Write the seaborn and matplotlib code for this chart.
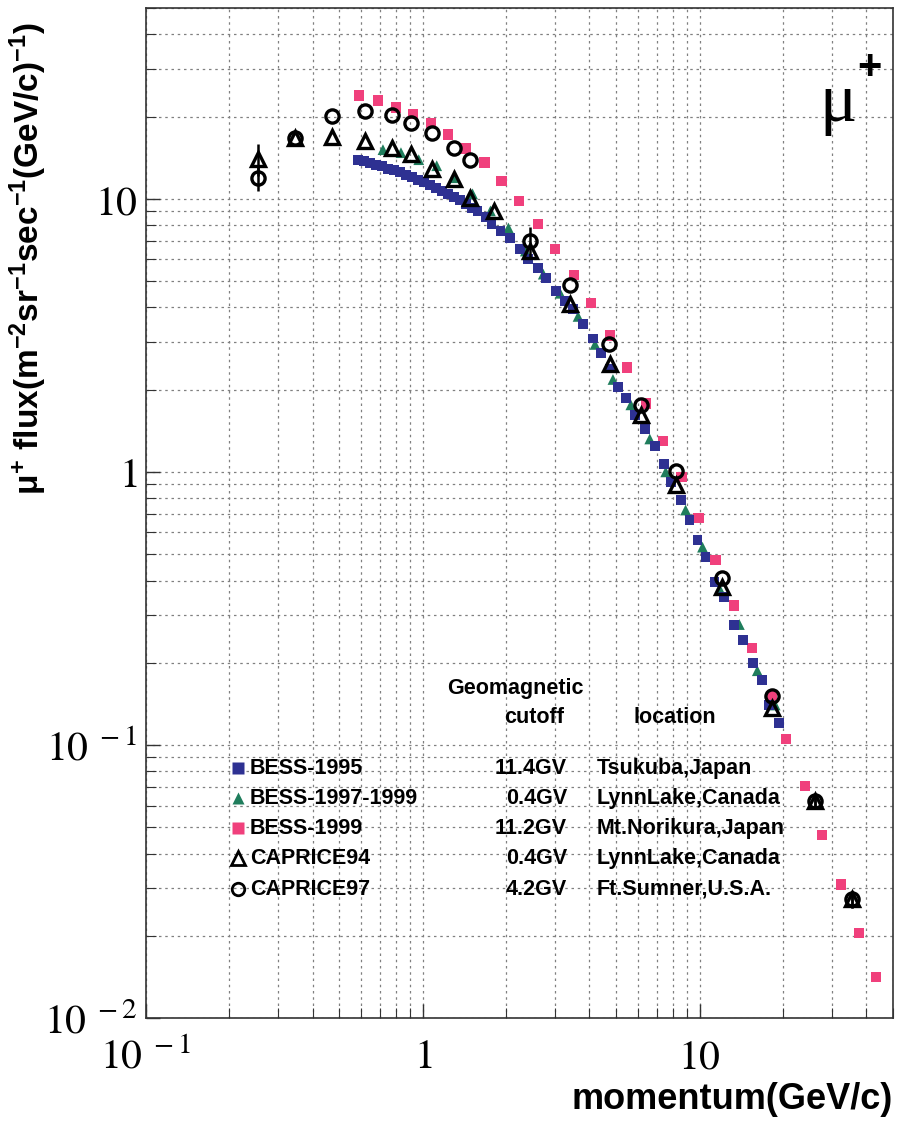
import matplotlib
matplotlib.use("Agg")
import matplotlib.pyplot as plt
import matplotlib.ticker as mticker
import numpy as np
import pandas as pd
import seaborn as sns

# BESS-1995, Tsukuba
bess95_p = [0.584, 0.614, 0.645, 0.678, 0.712, 0.748, 0.787, 0.827, 0.869, 0.913,
            0.959, 1.008, 1.060, 1.114, 1.170, 1.230, 1.293, 1.359, 1.428, 1.501,
            1.577, 1.685, 1.771, 1.908, 2.073, 2.252, 2.406, 2.614, 2.793, 3.034,
            3.268, 3.493, 3.795, 4.123, 4.405, 4.746, 5.070, 5.417, 5.837, 6.341,
            6.889, 7.422, 7.865, 8.544, 9.205, 9.835, 10.51, 11.32, 12.30, 13.36,
            14.40, 15.64, 16.85, 17.86, 19.40]
bess95_flux = [13.91, 13.79, 13.57, 13.34, 13.22, 12.89, 12.78, 12.57, 12.25, 12.05,
               11.75, 11.55, 11.26, 10.98, 10.70, 10.43, 10.17, 9.92, 9.59, 9.27,
               9.03, 8.59, 8.09, 7.63, 7.19, 6.55, 6.02, 5.58, 5.12, 4.59,
               4.22, 3.94, 3.47, 3.08, 2.72, 2.39, 2.04, 1.87, 1.62, 1.44,
               1.24, 1.07, 0.919, 0.789, 0.666, 0.562, 0.487, 0.394, 0.347, 0.274,
               0.243, 0.200, 0.173, 0.140, 0.120]

# BESS-1997-1999, Lynn Lake
bess97_p = [0.718, 0.834, 0.967, 1.123, 1.303, 1.513, 1.756, 2.039, 2.347, 2.725,
            3.136, 3.640, 4.192, 4.866, 5.647, 6.609, 7.546, 8.905, 10.25, 11.90,
            13.93, 16.17, 18.77]
bess97_flux = [15.14, 14.76, 13.91, 13.22, 11.95, 10.43, 9.03, 7.82, 6.44, 5.30,
               4.51, 3.71, 2.93, 2.18, 1.76, 1.32, 1.00, 0.725, 0.530, 0.368,
               0.276, 0.187, 0.140]

# BESS-1999, Mt. Norikura
bess99_p = [0.588, 0.689, 0.800, 0.920, 1.069, 1.230, 1.428, 1.671, 1.924, 2.233,
            2.614, 3.009, 3.523, 4.055, 4.746, 5.462, 6.394, 7.361, 8.615, 9.92,
            11.42, 13.36, 15.51, 18.31, 20.55, 24.06, 27.70, 32.42, 37.63, 43.33]
bess99_flux = [23.9, 22.9, 21.6, 20.4, 19.0, 17.2, 15.3, 13.6, 11.6, 9.83,
               8.09, 6.55, 5.26, 4.15, 3.16, 2.41, 1.78, 1.30, 0.958, 0.678,
               0.475, 0.324, 0.227, 0.151, 0.105, 0.0707, 0.0467, 0.0308, 0.0205, 0.01415]

# CAPRICE94, Lynn Lake
cap94_p = [0.253, 0.346, 0.471, 0.619, 0.774, 0.905, 1.077, 1.293, 1.476, 1.816,
           2.446, 3.407, 4.746, 6.135, 8.198, 12.10, 18.31, 26.14, 35.51]
cap94_flux = [14.03, 16.76, 16.90, 16.34, 15.40, 14.64, 12.89, 11.85, 10.08, 9.03,
              6.44, 4.11, 2.49, 1.61, 0.896, 0.378, 0.137, 0.0622, 0.0272]
cap94_err = [1.9, 0, 0, 0, 0, 0, 0, 0, 0, 0,
             0, 0, 0, 0, 0, 0, 0, 0.004, 0.002]

# CAPRICE97, Ft. Sumner
cap97_p = [0.253, 0.346, 0.471, 0.619, 0.774, 0.905, 1.077, 1.293, 1.476,
           2.446, 3.407, 4.72, 6.135, 8.198, 12.10, 18.31, 26.14, 35.51]
cap97_flux = [11.95, 16.76, 20.19, 21.06, 20.36, 19.0, 17.48, 15.40, 13.91,
              7.01, 4.83, 2.93, 1.76, 1.01, 0.408, 0.151, 0.0622, 0.0272]
cap97_err = [1.25, 0, 0, 0, 0, 0, 0, 0, 0,
             0.9, 0, 0, 0, 0, 0, 0, 0.004, 0.002]

# legend table
leg_names = ["BESS-1995", "BESS-1997-1999", "BESS-1999", "CAPRICE94", "CAPRICE97"]
leg_cutoff = ["11.4GV", "0.4GV", "11.2GV", "0.4GV", "4.2GV"]
leg_location = ["Tsukuba,Japan", "LynnLake,Canada", "Mt.Norikura,Japan",
                "LynnLake,Canada", "Ft.Sumner,U.S.A."]

BLUE = "#2e3192"
GREEN = "#1f7d5c"
PINK = "#f0407c"

sns.set_theme(style="white")
plt.rcParams['font.family'] = ['Liberation Sans', 'DejaVu Sans']
plt.rcParams['text.color'] = 'black'
plt.rcParams['axes.labelcolor'] = 'black'
plt.rcParams['xtick.color'] = 'black'
plt.rcParams['ytick.color'] = 'black'
plt.rcParams['mathtext.fontset'] = 'custom'
plt.rcParams['mathtext.rm'] = 'Liberation Sans:bold'
plt.rcParams['mathtext.it'] = 'Liberation Sans:bold'
plt.rcParams['mathtext.bf'] = 'Liberation Sans:bold'

fig = plt.figure(figsize=(8.98, 11.22), dpi=100)
ax = fig.add_axes([0.1626, 0.0927, 0.8318, 0.9002])
ax.set_xscale('log')
ax.set_yscale('log')

df95 = pd.DataFrame({'p': bess95_p, 'flux': bess95_flux})
df97 = pd.DataFrame({'p': bess97_p, 'flux': bess97_flux})
df99 = pd.DataFrame({'p': bess99_p, 'flux': bess99_flux})
dfc94 = pd.DataFrame({'p': cap94_p, 'flux': cap94_flux, 'err': cap94_err})
dfc97 = pd.DataFrame({'p': cap97_p, 'flux': cap97_flux, 'err': cap97_err})

sns.scatterplot(data=df99, x='p', y='flux', marker='s', s=55, color=PINK,
                edgecolor='none', ax=ax, zorder=3)
sns.scatterplot(data=df97, x='p', y='flux', marker='^', s=60, color=GREEN,
                edgecolor='none', ax=ax, zorder=3)
sns.scatterplot(data=df95, x='p', y='flux', marker='s', s=50, color=BLUE,
                edgecolor='none', ax=ax, zorder=4)

ax.errorbar(dfc94['p'], dfc94['flux'], yerr=dfc94['err'], fmt='none',
            ecolor='black', elinewidth=1.8, capsize=0, zorder=5)
ax.errorbar(dfc97['p'], dfc97['flux'], yerr=dfc97['err'], fmt='none',
            ecolor='black', elinewidth=1.8, capsize=0, zorder=5)
sns.lineplot(data=dfc94, x='p', y='flux', marker='^', linestyle='', ms=10,
             mfc='none', mec='black', mew=2.4, estimator=None, ax=ax, zorder=6)
sns.lineplot(data=dfc97, x='p', y='flux', marker='o', linestyle='', ms=9.5,
             mfc='none', mec='black', mew=2.4, estimator=None, ax=ax, zorder=6)

ax.set_xlim(0.1, 50)
ax.set_ylim(0.01, 50)

# grid and frame
ax.grid(True, which='both', linestyle=(0, (2, 3)), color='#808080', linewidth=0.9)
for sp in ax.spines.values():
    sp.set_color('#333333')
    sp.set_linewidth(1.2)
ax.tick_params(which='both', direction='in', top=False, right=False,
               bottom=True, left=True, color='#333333')
ax.tick_params(which='major', length=10, width=1)
ax.tick_params(which='minor', length=7, width=0.8)

ax.set_xticks([0.1, 1, 10])
ax.set_xticklabels([r'$10^{\ -1}$', r'$1$', r'$10$'], fontsize=30,
                   math_fontfamily='stix')
ax.set_yticks([0.01, 0.1, 1, 10])
ax.set_yticklabels([r'$10^{\ -2}$', r'$10^{\ -1}$', r'$1\quad$', r'$10\quad$'],
                   fontsize=30, math_fontfamily='stix')
ax.xaxis.set_minor_formatter(mticker.NullFormatter())
ax.yaxis.set_minor_formatter(mticker.NullFormatter())
ax.tick_params(axis='x', which='major', pad=14)
ax.tick_params(axis='y', which='major', pad=6)

ax.set_xlabel('momentum(GeV/c)', fontsize=26, fontweight='bold', ha='right', va='center')
ax.xaxis.set_label_coords(1.0, -0.081)
ax.set_ylabel(r'$\mu^{+}$ flux(m$^{-2}$sr$^{-1}$sec$^{-1}$(GeV/c)$^{-1}$)',
              fontsize=24, fontweight='bold', va='center')
ax.yaxis.set_label_coords(-0.158, 0.752)

# mu+ tag
ax.text(0.926, 0.905, 'μ', transform=ax.transAxes, fontsize=50, color='black',
        family=['Liberation Serif', 'DejaVu Serif'], ha='center', va='center')
ax.text(0.969, 0.941, '+', transform=ax.transAxes, fontsize=30, color='black',
        fontweight='bold', ha='center', va='center')

# legend table
ax.text(0.494, 0.3267, 'Geomagnetic', transform=ax.transAxes, fontsize=15.5,
        fontweight='bold', ha='center', va='center')
ax.text(0.520, 0.298, 'cutoff', transform=ax.transAxes, fontsize=15.5,
        fontweight='bold', ha='center', va='center')
ax.text(0.708, 0.298, 'location', transform=ax.transAxes, fontsize=15.5,
        fontweight='bold', ha='center', va='center')

row_y = [0.2475, 0.2178, 0.1881, 0.1584, 0.1277]
leg_style = [
    dict(marker='s', color=BLUE, ms=8, mec='none'),
    dict(marker='^', color=GREEN, ms=8, mec='none'),
    dict(marker='s', color=PINK, ms=8, mec='none'),
    dict(marker='^', color='black', ms=10, mfc='none', mec='black', mew=2),
    dict(marker='o', color='black', ms=9, mfc='none', mec='black', mew=2),
]
for yy, name, cut, loc, st in zip(row_y, leg_names, leg_cutoff, leg_location, leg_style):
    ax.plot([0.123], [yy], linestyle='', transform=ax.transAxes, **st)
    ax.text(0.139, yy, name, transform=ax.transAxes, fontsize=15.5,
            fontweight='bold', ha='left', va='center')
    ax.text(0.5636, yy, cut, transform=ax.transAxes, fontsize=15.5,
            fontweight='bold', ha='right', va='center')
    ax.text(0.6037, yy, loc, transform=ax.transAxes, fontsize=15.5,
            fontweight='bold', ha='left', va='center')

if ax.get_legend() is not None:
    ax.get_legend().remove()

fig.savefig('out.png', dpi=100)
